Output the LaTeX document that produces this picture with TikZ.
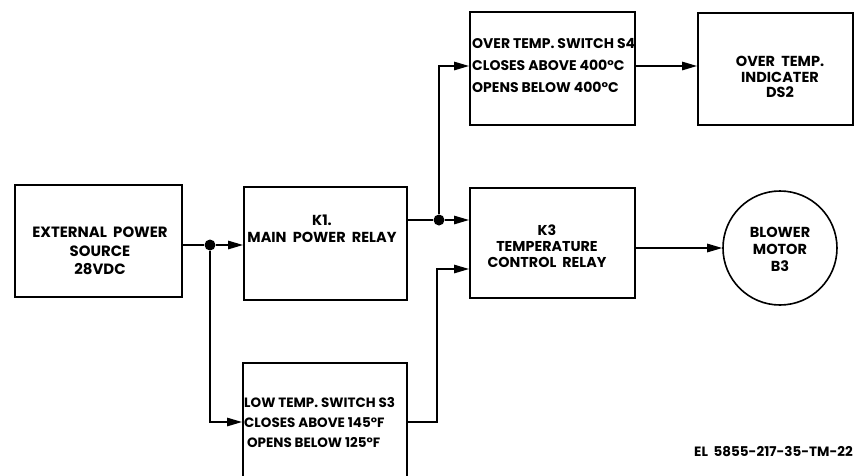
\documentclass[tikz,border=0pt]{standalone}
\usepackage{fontspec}
\setmainfont{Poppins}
\usetikzlibrary{arrows.meta}
\begin{document}
\begin{tikzpicture}[x=1pt,y=-1pt,
  box/.style={draw, line width=2pt, inner sep=0pt},
  lbl/.style={inner sep=0pt, align=center},
  wire/.style={line width=1.4pt},
  arr/.style={wire, -{Triangle[length=15pt,width=8.5pt]}},
  jdot/.style={circle, fill, inner sep=0pt, minimum size=11pt}
]
\clip (0,0) rectangle (860,475);
\fill[white] (0,0) rectangle (860,475);

% boxes
\node[box, minimum width=167pt, minimum height=112pt] (ext) at (98.5,241) {};
\node[box, minimum width=163pt, minimum height=113pt] (k1) at (325.5,243.5) {};
\node[box, minimum width=165pt, minimum height=110pt] (k3) at (552.5,243) {};
\node[box, minimum width=165pt, minimum height=113pt] (s4) at (552.5,68.5) {};
\node[box, minimum width=155pt, minimum height=112pt] (ds2) at (775.5,69) {};
\node[box, minimum width=164pt, minimum height=120pt] (s3) at (325,423) {};
\node[box, circle, line width=1.6pt, minimum size=114pt] (bm) at (780,248) {};

% texts
\node[lbl, font=\fontsize{14.9}{18.5}\selectfont\bfseries] (extT) at (100,251) {EXTERNAL\ \ POWER\\SOURCE\\28VDC};
\node[lbl, font=\fontsize{14.5}{17}\selectfont\bfseries] (k1T) at (322,229) {K1.\\MAIN\ \ POWER\ \ RELAY};
\node[lbl, font=\fontsize{14.3}{16}\selectfont\bfseries] (k3T) at (547,246) {K3\\TEMPERATURE\\CONTROL\ \ RELAY};
\node[lbl, align=left, anchor=west, font=\fontsize{14}{22}\selectfont\bfseries] (s4T) at (472,66) {OVER TEMP. SWITCH S4\\CLOSES ABOVE 400°C\\OPENS BELOW 400°C};
\node[lbl, font=\fontsize{14.5}{15.5}\selectfont\bfseries] (ds2T) at (780,77) {OVER\ \ TEMP.\\INDICATER\\DS2};
\node[lbl, font=\fontsize{14.5}{17}\selectfont\bfseries] (bmT) at (780,249) {BLOWER\\MOTOR\\B3};
\node[lbl, align=left, anchor=west, font=\fontsize{13.5}{20}\selectfont\bfseries] (s3T) at (244,422) {LOW TEMP. SWITCH S3\\CLOSES ABOVE 145°F\\\ OPENS BELOW 125°F};
\node[lbl, anchor=east, font=\fontsize{13.5}{15}\selectfont\bfseries] (cap) at (853,452) {EL\ \ 5855-217-35-TM-22};

% junctions
\node[jdot] (j1) at (210,245) {};
\node[jdot] (j2) at (439,220) {};
\coordinate (c1) at (210,422);
\coordinate (c2) at (439,66);
\coordinate (c3) at (437,422);
\coordinate (c4) at (437,269);

% connectors
\draw[wire] (ext.east |- j1) -- (j1);
\draw[arr] (j1) -- (k1.west |- j1);
\draw[arr] (j1) -- (c1) -- (s3.west |- c1);
\draw[wire] (k1.east |- j2) -- (j2);
\draw[arr] (j2) -- (k3.west |- j2);
\draw[arr] (j2) -- (c2) -- (s4.west |- c2);
\draw[arr] (s4.east |- c2) -- (ds2.west |- c2);
\draw[arr] (s3.east |- c3) -- (c3) -- (c4) -- (k3.west |- c4);
\draw[arr] (k3.east |- bm) -- (bm.west);
\end{tikzpicture}
\end{document}
